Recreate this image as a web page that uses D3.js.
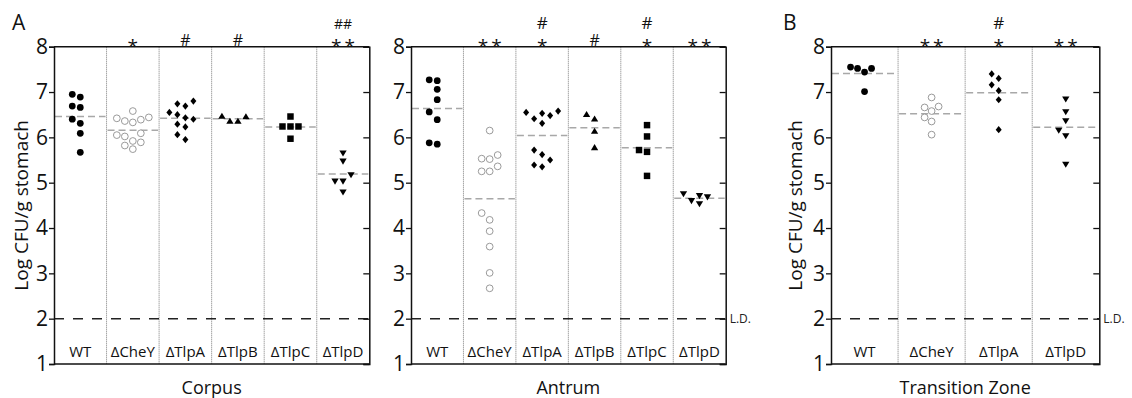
<!DOCTYPE html>
<html>
<head>
<meta charset="utf-8">
<script src="https://cdn.jsdelivr.net/npm/d3@7"></script>
<style>
  body { margin: 0; background: #fff; }
  svg { display: block; font-family: "Open Sans", sans-serif; }
</style>
</head>
<body>
<div id="chart"></div>
<script>
// Data (log CFU / g stomach)
const yTicks = [1, 2, 3, 4, 5, 6, 7, 8];
const detectionLimit = 2;

const corpusGroups = ['WT', 'ΔCheY', 'ΔTlpA', 'ΔTlpB', 'ΔTlpC', 'ΔTlpD'];
const corpusValues = [
    [6.95, 6.89, 6.66, 6.69, 6.31, 6.40, 6.09, 5.67],
    [6.58, 6.44, 6.39, 6.33, 6.36, 6.42, 6.09, 6.02, 6.05, 5.92, 5.82, 5.74, 5.89],
    [6.80, 6.69, 6.74, 6.55, 6.50, 6.40, 6.43, 6.23, 6.29, 6.06, 5.95],
    [6.46, 6.36, 6.36, 6.47],
    [6.46, 6.24, 6.24, 6.24, 5.97],
    [5.65, 5.47, 5.17, 5.03, 5.03, 4.79]
];
const corpusMarkLow = ['', '*', '#', '#', '', '**'];
const corpusMarkHigh = ['', '', '', '', '', '##'];

const antrumGroups = ['WT', 'ΔCheY', 'ΔTlpA', 'ΔTlpB', 'ΔTlpC', 'ΔTlpD'];
const antrumValues = [
    [7.25, 7.27, 7.06, 6.83, 6.56, 6.39, 5.88, 5.85],
    [6.15, 5.61, 5.52, 5.53, 5.36, 5.25, 5.25, 4.33, 4.18, 3.93, 3.59, 3.01, 2.67],
    [6.58, 6.48, 6.53, 6.55, 6.31, 6.41, 5.72, 5.62, 5.50, 5.39, 5.35],
    [6.51, 6.41, 6.14, 5.78],
    [6.27, 6.02, 5.72, 5.68, 5.15],
    [4.71, 4.60, 4.53, 4.68, 4.75]
];
const antrumMarkLow = ['', '**', '*', '#', '*', '**'];
const antrumMarkHigh = ['', '', '#', '', '#', ''];

const transitionGroups = ['WT', 'ΔCheY', 'ΔTlpA', 'ΔTlpD'];
const transitionValues = [
    [7.55, 7.52, 7.44, 7.52, 7.01],
    [6.88, 6.68, 6.66, 6.58, 6.44, 6.35, 6.06],
    [7.40, 7.30, 7.16, 7.03, 6.83, 6.17],
    [6.84, 6.56, 6.36, 6.15, 6.03, 5.40]
];
const transitionMarkLow = ['', '**', '*', '**'];
const transitionMarkHigh = ['', '', '#', ''];

// Layout
const width = 1132, height = 398;
const plotTop = 46.7, plotBottom = 364;

const panels = [
    { groups: corpusGroups, values: corpusValues, low: corpusMarkLow, high: corpusMarkHigh,
      title: 'Corpus', x0: 54, x1: 369.3, letter: 'A', letterX: 12, yLabelX: 28, ld: false, slot: 8 },
    { groups: antrumGroups, values: antrumValues, low: antrumMarkLow, high: antrumMarkHigh,
      title: 'Antrum', x0: 411, x1: 725.7, letter: null, yLabelX: null, ld: true, slot: 8 },
    { groups: transitionGroups, values: transitionValues, low: transitionMarkLow, high: transitionMarkHigh,
      title: 'Transition Zone', x0: 831, x1: 1099.3, letter: 'B', letterX: 783, yLabelX: 802, ld: true, slot: 7 }
];

// Marker shapes per strain
const diamond = { draw(ctx, size) { const r = Math.sqrt(size) / 2;
    ctx.moveTo(0, -r * 1.2); ctx.lineTo(r, 0); ctx.lineTo(0, r * 1.2); ctx.lineTo(-r, 0); ctx.closePath(); } };
const triUp = { draw(ctx, size) { const r = Math.sqrt(size) / 2;
    ctx.moveTo(0, -r); ctx.lineTo(r * 1.1, r * 0.85); ctx.lineTo(-r * 1.1, r * 0.85); ctx.closePath(); } };
const triDown = { draw(ctx, size) { const r = Math.sqrt(size) / 2;
    ctx.moveTo(0, r); ctx.lineTo(r * 1.1, -r * 0.85); ctx.lineTo(-r * 1.1, -r * 0.85); ctx.closePath(); } };

const markers = {
    'WT':    { type: d3.symbolCircle, size: 36, fill: '#000', stroke: 'none' },
    'ΔCheY': { type: d3.symbolCircle, size: 36, fill: '#fff', stroke: '#9a9a9a' },
    'ΔTlpA': { type: diamond, size: 36, fill: '#000', stroke: 'none' },
    'ΔTlpB': { type: triUp, size: 44, fill: '#000', stroke: 'none' },
    'ΔTlpC': { type: d3.symbolSquare, size: 42, fill: '#000', stroke: 'none' },
    'ΔTlpD': { type: triDown, size: 44, fill: '#000', stroke: 'none' }
};

const svg = d3.select('#chart')
    .append('svg')
    .attr('width', width)
    .attr('height', height);

const y = d3.scaleLinear().domain([1, 8]).range([plotBottom, plotTop]);

// Simple dodge: spread points sideways when they sit too close vertically
function dodge(values, minGap) {
    const order = d3.range(values.length).sort((a, b) => values[a] - values[b]);
    const slots = new Array(values.length);
    const placed = [];
    order.forEach(i => {
        const py = y(values[i]);
        for (let k = 0; ; k++) {
            const s = k === 0 ? 0 : (k % 2 ? -Math.ceil(k / 2) : Math.ceil(k / 2));
            const clash = placed.some(p => p.s === s && Math.abs(p.py - py) < minGap);
            if (!clash) { slots[i] = s; placed.push({ s, py }); break; }
        }
    });
    return slots;
}

function drawPanel(p) {
    const g = svg.append('g');
    const x = d3.scaleBand().domain(p.groups).range([p.x0, p.x1]).padding(0);

    // Column separators (dotted)
    g.selectAll('.sep')
        .data(p.groups.slice(1))
        .join('line')
        .attr('x1', d => x(d)).attr('x2', d => x(d))
        .attr('y1', plotTop).attr('y2', plotBottom)
        .attr('stroke', '#7a7a7a')
        .attr('stroke-width', 1)
        .attr('stroke-dasharray', '1,1');

    // Limit of detection
    g.append('line')
        .attr('x1', p.x0).attr('x2', p.x1)
        .attr('y1', y(detectionLimit)).attr('y2', y(detectionLimit))
        .attr('stroke', '#222')
        .attr('stroke-width', 1.5)
        .attr('stroke-dasharray', '10,9');

    if (p.ld) {
        g.append('text')
            .attr('x', p.x1 + 4)
            .attr('y', y(detectionLimit))
            .attr('dy', '0.35em')
            .attr('font-size', 12)
            .attr('fill', '#222')
            .text('L.D.');
    }

    p.groups.forEach((name, gi) => {
        const vals = p.values[gi];
        const cx = x(name) + x.bandwidth() / 2;

        // Mean line
        g.append('line')
            .attr('x1', x(name) + 1).attr('x2', x(name) + x.bandwidth() - 1)
            .attr('y1', y(d3.mean(vals))).attr('y2', y(d3.mean(vals)))
            .attr('stroke', '#a8a8a8')
            .attr('stroke-width', 1.5)
            .attr('stroke-dasharray', '7,4');

        const slots = dodge(vals, 8);
        const m = markers[name];
        const sym = d3.symbol().type(m.type).size(m.size);
        g.selectAll(null)
            .data(vals)
            .join('path')
            .attr('d', sym)
            .attr('transform', (d, i) => `translate(${cx + slots[i] * p.slot},${y(d)})`)
            .attr('fill', m.fill)
            .attr('stroke', m.stroke)
            .attr('stroke-width', 1);

        // Column label
        g.append('text')
            .attr('x', cx)
            .attr('y', 357)
            .attr('text-anchor', 'middle')
            .attr('font-size', 15)
            .attr('fill', '#111')
            .text(name);

        // Significance marks
        if (p.low[gi]) {
            const star = p.low[gi].includes('*');
            g.append('text')
                .attr('x', cx + (p.low[gi].length > 1 ? 1.5 : 0))
                .attr('y', star ? 53 : 46)
                .attr('text-anchor', 'middle')
                .attr('font-size', star ? 19 : 16)
                .attr('letter-spacing', p.low[gi].length > 1 ? 3 : 0)
                .attr('fill', '#111')
                .text(p.low[gi]);
        }
        if (p.high[gi]) {
            g.append('text')
                .attr('x', cx)
                .attr('y', 29)
                .attr('text-anchor', 'middle')
                .attr('font-size', p.high[gi].length > 1 ? 14 : 17)
                .attr('fill', '#111')
                .text(p.high[gi]);
        }
    });

    // Frame: top and bottom lines
    g.append('line')
        .attr('x1', p.x0).attr('x2', p.x1)
        .attr('y1', plotTop).attr('y2', plotTop)
        .attr('stroke', '#111').attr('stroke-width', 1.5);
    g.append('line')
        .attr('x1', p.x0).attr('x2', p.x1)
        .attr('y1', plotBottom).attr('y2', plotBottom)
        .attr('stroke', '#111').attr('stroke-width', 1.5);

    // Left axis with labels
    const left = g.append('g')
        .attr('transform', `translate(${p.x0},0)`)
        .call(d3.axisLeft(y).tickValues(yTicks).tickSize(5).tickPadding(1).tickFormat(d3.format('d')));
    left.select('.domain').attr('stroke', '#111').attr('stroke-width', 1.5);
    left.selectAll('.tick line').attr('stroke', '#111').attr('stroke-width', 1.3);
    left.selectAll('.tick text')
        .attr('font-family', '"Open Sans", sans-serif')
        .attr('font-size', 21)
        .attr('fill', '#111');

    // Right axis, ticks pointing inward
    const right = g.append('g')
        .attr('transform', `translate(${p.x1},0)`)
        .call(d3.axisLeft(y).tickValues(yTicks).tickSize(6).tickFormat(''));
    right.select('.domain').attr('stroke', '#111').attr('stroke-width', 1.5);
    right.selectAll('.tick line').attr('stroke', '#111').attr('stroke-width', 1.3);

    // Panel title below
    g.append('text')
        .attr('x', (p.x0 + p.x1) / 2)
        .attr('y', 394)
        .attr('text-anchor', 'middle')
        .attr('font-size', 18)
        .attr('fill', '#111')
        .text(p.title);

    if (p.yLabelX !== null) {
        g.append('text')
            .attr('transform', `translate(${p.yLabelX},${(plotTop + plotBottom) / 2}) rotate(-90)`)
            .attr('text-anchor', 'middle')
            .attr('font-size', 19)
            .attr('fill', '#111')
            .text('Log CFU/g stomach');
    }

    if (p.letter) {
        g.append('text')
            .attr('x', p.letterX)
            .attr('y', 30)
            .attr('font-size', 21)
            .attr('fill', '#111')
            .text(p.letter);
    }
}

panels.forEach(drawPanel);
</script>
</body>
</html>
